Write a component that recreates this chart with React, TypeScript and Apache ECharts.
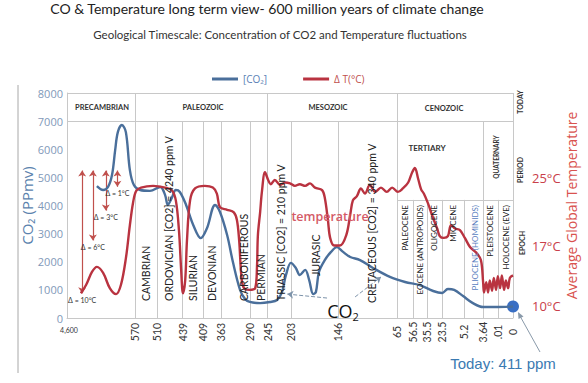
import React, { useEffect, useRef } from 'react';
import * as echarts from 'echarts';

// ---------- texts ----------
const titleText = 'CO & Temperature long term view- 600 million years of climate change';
const subtitleText = 'Geological Timescale: Concentration of CO2 and Temperature fluctuations';

// ---------- timeline ticks (Ma) and their place along the drawn timeline (0-100) ----------
const tickLabels = ['4,600', '570', '510', '439', '409', '363', '290', '245', '203', '146', '65', '56.5', '35.5', '23.5', '5.2', '3.64', '.01', '0'];
const tickPos = [0, 15.2, 20.2, 25.9, 30.6, 34.5, 41.0, 45.0, 50.2, 60.8, 74.0, 77.6, 80.7, 84.1, 89.0, 93.3, 96.6, 100];

const eraBoundaries = ['570', '245', '65', '0'];
const periodBoundaries = ['510', '439', '409', '363', '290', '203', '146', '3.64'];
const epochBoundaries = ['56.5', '35.5', '23.5', '5.2', '.01'];

// ---------- CO2 (ppmv) ----------
const co2Pos = [6.7, 8.1, 9.2, 10.1, 10.8, 11.4, 12.3, 13.2, 14.1, 15.0, 16.4, 18.6, 20.9, 22.0, 22.6, 23.5, 24.4, 25.3, 26.7, 28.3, 30.0, 31.4, 33.2, 34.3, 35.9, 37.2, 38.8, 39.9, 41.0, 43.3, 45.5, 47.1, 48.2, 49.1, 50.2, 51.3, 52.2, 53.4, 54.3, 55.2, 55.8, 56.5, 57.8, 59.2, 60.5, 61.9, 63.5, 65.7, 68.6, 72.4, 75.8, 79.1, 82.1, 84.1, 85.4, 86.8, 88.8, 91.0, 93.3, 96.0, 100];
const co2Vals = [4690, 4550, 4660, 5090, 5970, 6610, 6860, 6610, 5260, 4730, 4550, 4520, 4660, 4370, 4020, 4270, 4550, 4480, 4020, 3310, 2840, 3200, 4020, 3770, 2950, 1990, 1000, 680, 570, 530, 570, 640, 920, 1530, 1960, 1780, 1530, 1710, 1350, 850, 920, 1640, 2060, 2350, 2520, 2350, 2170, 2060, 1780, 1460, 1280, 1170, 960, 890, 1030, 1000, 780, 530, 390, 390, 411];

// ---------- Temperature (°C) ----------
const tempPos = [3.1, 4.3, 5.6, 6.7, 8.1, 9.6, 11.0, 12.1, 13.2, 14.1, 14.8, 15.5, 16.6, 19.3, 22.0, 23.5, 24.4, 25.1, 25.6, 26.0, 26.5, 26.9, 27.6, 28.7, 30.9, 32.7, 33.6, 34.3, 35.9, 37.4, 38.1, 38.6, 39.2, 39.9, 41.0, 42.2, 42.6, 42.8, 43.3, 43.7, 44.4, 45.1, 45.7, 46.6, 47.8, 48.9, 50.0, 51.1, 52.2, 53.4, 54.5, 55.6, 57.2, 57.8, 58.5, 59.0, 59.9, 61.2, 62.6, 63.5, 64.1, 65.0, 65.9, 66.8, 67.9, 69.1, 70.4, 71.7, 72.9, 74.2, 75.3, 76.5, 77.4, 78.0, 78.7, 79.4, 80.0, 80.9, 82.1, 83.0, 83.6, 84.5, 85.4, 86.1, 87.0, 88.1, 89.2, 90.4, 91.7, 92.8, 93.3, 93.5, 94.0, 94.4, 94.8, 95.3, 95.7, 96.2, 96.6, 97.1, 97.5, 98.0, 98.4, 98.9, 99.3, 100];
const tempVals = [11.5, 12.5, 14.0, 14.6, 13.9, 12.1, 11.4, 12.5, 15.6, 19.5, 22.1, 23.5, 23.9, 24.1, 23.9, 23.6, 22.4, 18.9, 14.2, 11.5, 13.0, 17.7, 22.4, 23.8, 24.1, 23.9, 23.2, 21.6, 21.3, 21.0, 20.1, 17.7, 13.0, 12.0, 11.9, 12.1, 14.6, 18.3, 21.0, 23.4, 25.7, 24.8, 24.3, 24.8, 24.2, 24.5, 24.4, 24.1, 24.3, 24.1, 24.4, 23.9, 23.6, 22.7, 20.1, 18.0, 17.1, 17.1, 18.3, 20.7, 22.4, 22.9, 23.8, 23.2, 24.2, 23.4, 23.9, 23.4, 23.9, 23.4, 23.8, 24.5, 25.7, 26.2, 25.0, 23.7, 23.2, 22.1, 20.3, 19.1, 18.2, 18.0, 18.2, 19.5, 19.1, 18.9, 18.0, 16.9, 16.3, 15.4, 12.8, 11.6, 12.8, 11.6, 13.0, 11.8, 13.3, 11.9, 13.5, 12.1, 13.6, 11.9, 13.0, 12.1, 13.3, 13.6];

// ---------- Precambrian temperature swings ----------
const deltaLabels = ['Δ = 10°C', 'Δ = 6°C', 'Δ = 3°C', 'Δ = 1°C'];
const deltaPos = [3.4, 5.8, 8.7, 11.3];
const deltaTop = [25.9, 25.9, 25.9, 25.9];
const deltaBottom = [11.5, 17.7, 21.2, 24.0];

// ---------- today ----------
const todayPos = 100;
const todayCo2 = 411;

// header rows (in CO2 units)
const ERA_TOP = 8000;
const PERIOD_TOP = 7000;
const EPOCH_TOP = 4200;

const tempTicks = [10, 17, 25];

const BLUE = '#4a6f9b';
const RED = '#b93340';
const LINE_GRAY = '#c8c8c8';
const LABEL_FONT = 'Lato, "Open Sans", sans-serif';

const posOf = (l: string) => tickPos[tickLabels.indexOf(l)];

function txt(text: string, x: number, y: number, o: any = {}) {
  const align = o.align || 'center';
  const valign = o.valign || 'middle';
  return {
    type: 'text',
    x,
    y,
    rotation: o.rot || 0,
    silent: true,
    z: 50,
    style: {
      text,
      fill: o.color || '#222',
      fontSize: o.size || 10,
      fontFamily: o.family || LABEL_FONT,
      fontWeight: o.weight || 'normal',
      textAlign: align,
      textVerticalAlign: valign,
      align,
      verticalAlign: valign,
      rich: o.rich,
    },
  };
}

const R90 = Math.PI / 2;

export default function App() {
  const ref = useRef<HTMLDivElement>(null);

  useEffect(() => {
    if (!ref.current) return;
    const chart = echarts.init(ref.current, undefined, { renderer: 'svg' });

    const co2Data = co2Pos.map((p, i) => [p, co2Vals[i]]);
    const tempData = tempPos.map((p, i) => [p, tempVals[i]]);

    const plain = { lineStyle: { color: LINE_GRAY, width: 1, type: 'solid' } };
    const tableLines: any[] = [
      [{ coord: [0, ERA_TOP], ...plain }, { coord: [100, ERA_TOP] }],
      [{ coord: [0, PERIOD_TOP], ...plain }, { coord: [100, PERIOD_TOP] }],
      [{ coord: [posOf('65'), EPOCH_TOP], ...plain }, { coord: [100, EPOCH_TOP] }],
      ...eraBoundaries.map((l) => [{ coord: [posOf(l), 0], ...plain }, { coord: [posOf(l), ERA_TOP] }]),
      ...periodBoundaries.map((l) => [{ coord: [posOf(l), 0], ...plain }, { coord: [posOf(l), PERIOD_TOP] }]),
      ...epochBoundaries.map((l) => [{ coord: [posOf(l), 0], ...plain }, { coord: [posOf(l), EPOCH_TOP] }]),
      // pointers from the "CO2" note to the curve
      [
        { coord: [58.3, 710], symbol: 'none', lineStyle: { color: '#7d93aa', width: 1 } },
        { coord: [49.4, 850], symbol: 'arrow', symbolSize: 6 },
      ],
      [
        { coord: [64.6, 750], symbol: 'none', lineStyle: { color: '#7d93aa', width: 1 } },
        { coord: [70.4, 1460], symbol: 'arrow', symbolSize: 6 },
      ],
    ];

    const deltaLines = deltaLabels.map((lab, i) => [
      { coord: [deltaPos[i], deltaTop[i]] },
      { coord: [deltaPos[i], deltaBottom[i]], label: { show: true, formatter: lab } },
    ]);

    const labelFor = (v: number) => {
      let best = 0;
      let bd = 1e9;
      tickPos.forEach((p, i) => {
        const d = Math.abs(p - v);
        if (d < bd) {
          bd = d;
          best = i;
        }
      });
      return tickLabels[best];
    };

    const periodY = 301;
    const epochY = 205;
    const graphic: any[] = [
      txt(titleText, 267, 8, { size: 14, color: '#222', family: 'Lato, sans-serif' }),
      txt(subtitleText, 280, 34, { size: 11.5, color: '#333', family: 'Lato, sans-serif' }),
      { type: 'line', silent: true, shape: { x1: 18, y1: 85, x2: 18, y2: 373 }, style: { stroke: '#a8a8a8', lineWidth: 1 } },
      // header table
      txt('PRECAMBRIAN', 102, 107, { size: 7.5, weight: 'bold', color: '#333' }),
      txt('PALEOZOIC', 203, 107, { size: 7.5, weight: 'bold', color: '#333' }),
      txt('MESOZOIC', 328, 107, { size: 7.5, weight: 'bold', color: '#333' }),
      txt('CENOZOIC', 444, 108, { size: 7.5, weight: 'bold', color: '#333' }),
      txt('TERTIARY', 427, 148, { size: 8, weight: 'bold', color: '#333' }),
      txt('QUATERNARY', 496, 157, { size: 6.5, weight: 'bold', color: '#333', rot: R90 }),
      txt('TODAY', 520, 102, { size: 7, weight: 'bold', color: '#333', rot: R90 }),
      txt('PERIOD', 520, 170, { size: 7, weight: 'bold', color: '#333', rot: R90 }),
      txt('EPOCH', 522, 243, { size: 7, weight: 'bold', color: '#333', rot: R90 }),
      // periods
      txt('CAMBRIAN', 146, periodY, { size: 10.5, rot: R90, align: 'left' }),
      txt('ORDOVICIAN [CO2] = 4240 ppm V', 169, periodY, { size: 10.5, rot: R90, align: 'left' }),
      txt('SILURIAN', 193, periodY, { size: 10.5, rot: R90, align: 'left' }),
      txt('DEVONIAN', 212, periodY, { size: 10.5, rot: R90, align: 'left' }),
      txt('CARBONIFEROUS', 244, periodY, { size: 10.5, rot: R90, align: 'left' }),
      txt('PERMIAN', 261, periodY, { size: 10.5, rot: R90, align: 'left' }),
      txt('TRIASSIC [CO2] = 210 ppm V', 281, periodY, { size: 10.5, rot: R90, align: 'left' }),
      txt('JURASIC', 316, 276, { size: 10.5, rot: R90, align: 'left' }),
      txt('CRETACEOUS [CO2] = 340 ppm V', 372, 303, { size: 10.5, rot: R90, align: 'left' }),
      // epochs
      txt('PALEOCENE', 405, epochY, { size: 8, rot: R90, align: 'right' }),
      txt('EOCENE (ANTROPOIDS)', 420, epochY, { size: 8, rot: R90, align: 'right' }),
      txt('OLIGOCENE', 434, epochY, { size: 8, rot: R90, align: 'right' }),
      txt('MIOCENE', 453, epochY, { size: 8, rot: R90, align: 'right' }),
      txt('PLIOCENE (HOMINIDS)', 475, epochY, { size: 8, rot: R90, align: 'right', color: '#5b7fc0' }),
      txt('PLEISTOCENE', 490, epochY, { size: 8, rot: R90, align: 'right' }),
      txt('HOLOCENE (EVE)', 506, epochY, { size: 8, rot: R90, align: 'right' }),
      // notes
      txt('temperature', 330, 216, { size: 12.5, weight: 600, color: '#d45a66', family: '"Open Sans", sans-serif' }),
      txt('{a|CO}{b|2}', 343, 311, {
        rich: {
          a: { fontSize: 18, fill: '#111', fontFamily: '"Open Sans", sans-serif' },
          b: { fontSize: 11, fill: '#111', fontFamily: '"Open Sans", sans-serif', padding: [10, 0, 0, 0] },
        },
      }),
      txt('4,600', 69, 330, { size: 7, color: '#333' }),
      txt('Today: 411 ppm', 503, 363, { size: 15, color: '#3a7ab2', family: '"Liberation Sans", Arial, sans-serif' }),
      { type: 'line', silent: true, shape: { x1: 540, y1: 352, x2: 520, y2: 316 }, style: { stroke: '#8a9aaa', lineWidth: 1 } },
      { type: 'polygon', silent: true, shape: { points: [[518, 312], [523.5, 316.5], [518.5, 319]] }, style: { fill: '#8a9aaa' } },
    ];

    chart.setOption({
      animation: false,
      backgroundColor: '#ffffff',
      grid: { left: 67, right: 75, top: 93, bottom: 65, outerBoundsMode: 'none', containLabel: false },
      legend: {
        left: 212,
        top: 74,
        padding: 0,
        itemWidth: 26,
        itemHeight: 3,
        itemGap: 36,
        icon: 'rect',
        textStyle: { fontSize: 10, fontFamily: '"Open Sans", sans-serif' },
        data: [
          { name: '[CO₂]', textStyle: { color: '#5a7fb5' } },
          { name: 'Δ T(°C)', textStyle: { color: '#c0504d' } },
        ],
      },
      xAxis: {
        type: 'value',
        min: 0,
        max: 100,
        splitLine: { show: false },
        axisLine: { show: true, lineStyle: { color: LINE_GRAY } },
        axisTick: { show: false },
        axisLabel: {
          customValues: tickPos.slice(1),
          formatter: (v: number) => labelFor(v),
          rotate: 90,
          align: 'center',
          verticalAlign: 'middle',
          margin: 14,
          fontSize: 10.5,
          color: '#333',
          fontFamily: LABEL_FONT,
          hideOverlap: false,
        },
      },
      yAxis: [
        {
          type: 'value',
          min: 0,
          max: 8000,
          interval: 1000,
          name: 'CO₂ (PPmv)',
          nameLocation: 'middle',
          nameRotate: 90,
          nameGap: 33,
          nameMoveOverlap: false,
          nameTextStyle: { color: '#5b82ad', fontSize: 15, fontFamily: '"Open Sans", "Noto Sans", sans-serif' },
          splitLine: { show: false },
          axisLine: { show: true, lineStyle: { color: LINE_GRAY } },
          axisTick: { show: false },
          axisLabel: {
            formatter: (v: number) => String(v),
            color: '#7f99b9',
            fontSize: 11,
            margin: 4,
            fontFamily: '"Open Sans", sans-serif',
          },
        },
        {
          type: 'value',
          min: 8.6,
          max: 35,
          position: 'right',
          name: 'Average Global Temperature',
          nameLocation: 'middle',
          nameRotate: 90,
          nameGap: 51,
          nameMoveOverlap: false,
          nameTextStyle: { color: '#d9534f', fontSize: 14, fontFamily: '"Open Sans", sans-serif' },
          splitLine: { show: false },
          axisLine: { show: false },
          axisTick: { show: false },
          axisLabel: {
            customValues: tempTicks,
            formatter: (v: number) => `${v}°C`,
            color: '#c9404a',
            fontSize: 13,
            margin: 19,
            fontFamily: '"Open Sans", sans-serif',
          },
        },
      ],
      series: [
        {
          name: '[CO₂]',
          type: 'line',
          data: co2Data,
          yAxisIndex: 0,
          symbol: 'none',
          smooth: 0.35,
          z: 5,
          lineStyle: { color: BLUE, width: 2.4 },
          itemStyle: { color: BLUE },
          markLine: {
            silent: true,
            symbol: 'none',
            animation: false,
            label: { show: false },
            emphasis: { disabled: true },
            data: tableLines,
          },
          markPoint: {
            silent: true,
            symbol: 'circle',
            symbolSize: 12,
            label: { show: false },
            itemStyle: { color: '#3a6fc4' },
            data: [{ coord: [todayPos, todayCo2] }],
          },
        },
        {
          name: 'Δ T(°C)',
          type: 'line',
          data: tempData,
          yAxisIndex: 1,
          symbol: 'none',
          smooth: 0.35,
          z: 6,
          lineStyle: { color: RED, width: 2.4 },
          itemStyle: { color: RED },
          markLine: {
            silent: true,
            symbol: ['arrow', 'arrow'],
            symbolSize: 6,
            animation: false,
            emphasis: { disabled: true },
            lineStyle: { color: '#c0504d', width: 1.2, type: 'solid' },
            label: { show: true, position: 'end', fontSize: 7, color: '#333', fontFamily: LABEL_FONT, distance: 3 },
            data: deltaLines,
          },
        },
      ],
      graphic,
    });

    return () => chart.dispose();
  }, []);

  return (
    <div
      ref={ref}
      style={{ position: 'fixed', left: 0, top: 0, width: 588, height: 383, background: '#fff' }}
    />
  );
}
